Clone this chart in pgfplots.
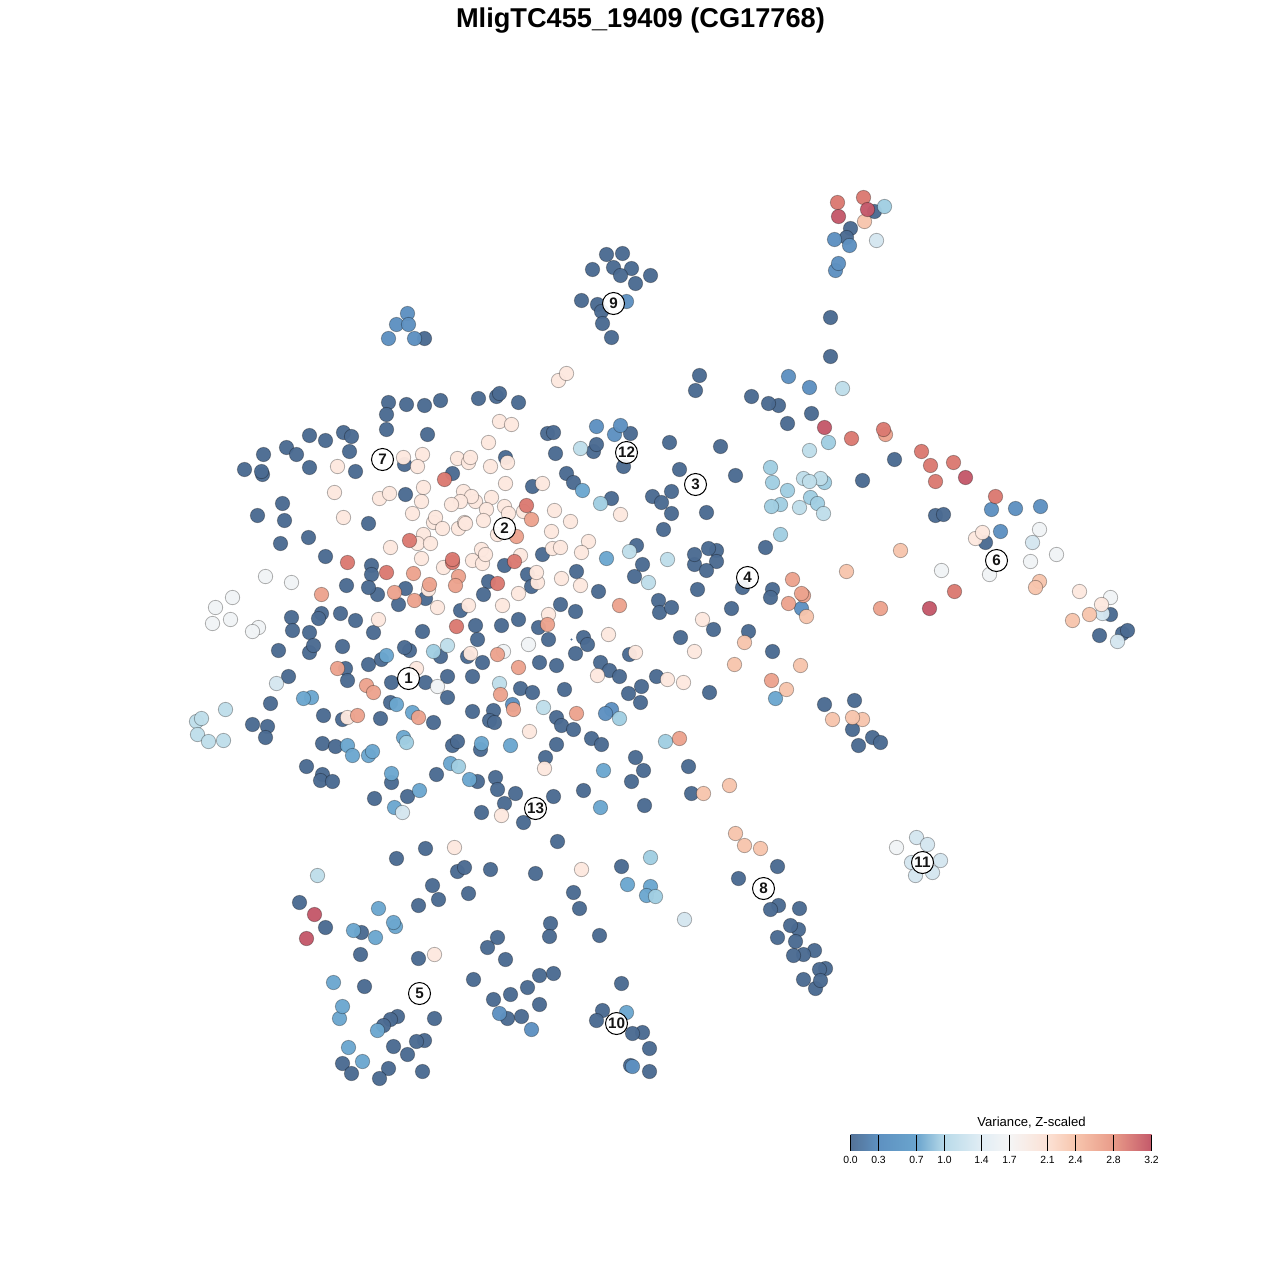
\documentclass[border=0pt]{standalone}
\usepackage{pgfplots}
\pgfplotsset{compat=1.18}
\usepackage{fontspec}
\setmainfont{Liberation Sans}
\definecolor{cA}{HTML}{4B6B92}
\definecolor{cB}{HTML}{5E91C1}
\definecolor{cC}{HTML}{6CA7CF}
\definecolor{cD}{HTML}{A1CEE2}
\definecolor{cE}{HTML}{BFDEEA}
\definecolor{cF}{HTML}{D5E6F0}
\definecolor{cG}{HTML}{F1F4F6}
\definecolor{cH}{HTML}{FDE8DF}
\definecolor{cI}{HTML}{F7C5AD}
\definecolor{cJ}{HTML}{ECA38E}
\definecolor{cK}{HTML}{DB7A72}
\definecolor{cL}{HTML}{C4596A}
\pgfplotsset{
  pt/.style={only marks, mark=*, mark size=3.6pt, mark options={fill=#1, draw=black, draw opacity=0.3, line width=0.4pt, fill opacity=0.97}, forget plot},
}
\begin{document}
\begin{tikzpicture}
\path (0,0) rectangle (640pt,640pt);
\begin{axis}[at={(0,0)}, anchor=south west, width=640pt, height=640pt, scale only axis, hide axis, clip=false,
  xmin=-0.5, xmax=1279.5, ymin=-0.5, ymax=1279.5, y dir=reverse]
\addplot[pt=cA] coordinates {(874,211)(850,228)(846,237)(830,317)(830,356)
(606,254)(622,253)(613,267)(631,268)(592,269)(620,275)(650,275)(635,283)(581,300)(597,304)(601,311)(602,323)(611,337)(424,338)
(388,402)(386,414)(386,429)(406,404)(424,405)(440,400)(478,398)(496,396)(499,393)(518,402)(427,434)
(309,435)(325,440)(343,432)(351,436)(349,451)(263,454)(286,447)(296,454)(309,467)(244,469)(262,474)(261,471)(355,471)(404,464)(405,494)(282,503)(257,515)(284,520)(368,523)(308,537)(280,543)(325,556)(371,565)(371,574)(346,585)(377,594)(368,587)(405,588)(398,604)(321,613)(318,618)(340,613)(355,620)
(547,433)(553,432)(555,453)(593,451)(596,444)(630,433)(623,466)(505,457)(452,473)(532,486)(566,473)(573,482)(611,498)(542,554)(504,565)(527,574)(531,586)(488,581)(483,594)(425,598)(576,571)(598,591)(636,545)(634,576)(642,564)(560,604)(575,611)(460,610)
(291,617)(292,630)(309,632)(373,632)(278,650)(309,652)(313,645)(342,646)(368,664)(381,659)(409,650)(404,647)(345,668)(347,680)(288,676)(391,682)(270,703)(390,702)(323,715)(342,719)(380,718)(252,724)(267,726)(265,737)(322,743)(335,746)(306,766)(322,774)(320,780)(332,781)(374,798)(391,782)(407,796)
(422,631)(475,625)(501,625)(518,619)(538,627)(548,639)(583,637)(587,644)(477,639)(575,653)(629,654)(467,656)(440,656)(482,662)(539,662)(556,665)(600,662)(609,670)(619,676)(447,676)(472,676)(425,682)(447,697)(520,688)(532,692)(564,689)(628,693)(641,686)(640,702)(472,711)(493,710)(489,720)(494,722)(433,722)(556,717)(561,725)(573,729)(591,738)(601,744)(556,744)(545,757)(635,757)(643,770)(631,781)(452,745)(457,741)(480,749)(436,774)(495,777)(477,781)(497,789)(515,793)(504,803)(553,796)(583,790)(481,812)(523,822)(644,805)
(699,375)(695,390)(751,396)(778,405)(768,403)(811,413)(787,423)(669,442)(720,446)(679,469)(735,475)(862,480)(671,491)(652,496)(661,502)(671,513)(706,512)(663,529)(694,564)(694,554)(716,550)(708,548)(716,561)(706,570)(765,547)(697,589)(742,587)(772,589)(770,597)(658,600)(659,612)(671,607)(731,608)
(713,629)(680,637)(748,631)(772,651)(656,676)(709,692)(824,704)(854,700)(852,729)(872,737)(880,742)(858,745)(688,766)(691,793)
(894,459)(935,515)(943,514)(985,542)(1122,633)(1127,630)(1099,635)(1110,614)
(425,848)(396,858)(457,871)(464,867)(490,869)(535,873)(432,885)(438,899)(418,905)(468,893)(299,902)(325,927)(361,932)(360,954)(418,958)(497,937)(487,947)(505,959)(550,923)(549,936)(473,979)(539,975)(553,973)(527,987)(510,994)(493,999)(539,1004)(507,1018)(521,1016)(364,986)(434,1018)(397,1016)(390,1019)(383,1025)(424,1040)(416,1041)(393,1046)(342,1063)(351,1073)(388,1068)(379,1078)(422,1071)(407,1054)
(557,841)(621,866)(573,892)(579,908)(599,935)(621,983)(602,1010)(596,1020)(642,1032)(632,1033)(649,1048)(630,1065)(649,1071)
(777,866)(738,878)(778,905)(770,909)(799,908)(798,929)(790,925)(777,937)(795,941)(814,950)(803,954)(793,955)(825,968)(819,969)(803,979)(815,988)(820,980)};
\addplot[pt=cB] coordinates {(835,270)(838,263)(407,313)(396,324)(408,324)(388,338)(414,338)(626,301)(596,426)(614,434)(620,425)(834,239)(849,245)(991,509)(1015,508)(1040,506)(1000,531)(499,1013)(531,1029)(632,1066)(512,704)(611,709)(605,713)(788,376)(809,387)(801,608)};
\addplot[pt=cC] coordinates {(582,490)(606,558)(386,655)(311,697)(303,698)(396,704)(412,712)(403,737)(347,745)(352,755)(368,755)(372,751)(391,773)(394,807)(419,790)(481,743)(510,745)(450,763)(469,779)(603,770)(600,807)(378,908)(395,926)(393,922)(353,930)(375,937)(333,982)(339,1018)(342,1006)(377,1030)(348,1047)(362,1061)(626,1012)(627,884)(650,886)(646,895)(775,698)};
\addplot[pt=cD] coordinates {(828,442)(770,467)(772,482)(787,490)(810,497)(817,503)(780,504)(771,506)(780,534)(824,482)(600,503)(406,742)(619,718)(650,857)(655,896)(884,206)(665,741)(433,651)(458,766)};
\addplot[pt=cE] coordinates {(580,448)(629,551)(842,388)(809,450)(803,478)(820,478)(809,481)(799,507)(823,513)(667,559)(648,582)(447,645)(499,683)(543,707)(317,875)(225,709)(196,721)(201,718)(197,734)(208,741)(223,740)};
\addplot[pt=cF] coordinates {(276,683)(402,812)(876,240)(684,919)(1032,542)(1117,641)(1102,613)(916,837)(927,844)(911,862)(940,860)(932,872)(915,875)};
\addplot[pt=cG] coordinates {(265,576)(291,582)(232,597)(215,607)(230,619)(212,623)(258,627)(252,631)(437,686)(528,644)(503,651)(1039,529)(1056,554)(1030,561)(941,570)(989,574)(1110,597)(896,847)};
\addplot[pt=cH] coordinates {(558,380)(566,373)(337,466)(334,492)(379,498)(389,493)(343,517)(390,547)(403,457)(499,421)(511,424)(488,442)(422,454)(417,466)(457,458)(468,462)(470,457)(490,466)(507,462)(505,483)(542,483)(423,487)(421,501)(412,513)(463,491)(475,501)(471,496)(460,501)(451,504)(491,497)(486,509)(504,506)(508,513)(523,511)(554,510)(570,521)(620,514)(433,522)(435,517)(442,528)(458,528)(464,522)(465,523)(483,520)(497,534)(551,531)(423,534)(417,543)(430,543)(421,558)(443,567)(472,560)(482,563)(481,549)(485,554)(520,555)(552,548)(560,547)(588,541)(581,552)(561,578)(580,585)(537,582)(536,572)(518,593)(468,605)(502,605)(437,607)(428,589)(378,619)(347,717)(416,668)(608,634)(635,652)(470,653)(597,675)(529,731)(544,768)(501,815)(548,614)(702,619)(694,651)(667,679)(683,682)(454,847)(434,954)(581,869)(975,538)(982,532)(1079,591)(1101,604)};
\addplot[pt=cI] coordinates {(864,221)(846,571)(900,550)(1039,581)(1035,587)(1072,620)(1089,614)(806,616)(744,642)(734,664)(800,665)(786,689)(832,719)(862,719)(852,717)(729,785)(703,793)(735,833)(744,845)(760,848)};
\addplot[pt=cJ] coordinates {(321,594)(394,592)(531,519)(516,536)(413,573)(458,576)(455,585)(429,584)(414,600)(619,605)(337,668)(366,685)(373,692)(357,715)(418,717)(547,624)(497,654)(518,667)(500,694)(513,709)(576,713)(792,579)(803,595)(801,593)(788,603)(771,680)(679,738)(885,434)(880,608)};
\addplot[pt=cK] coordinates {(347,562)(386,572)(409,540)(444,479)(452,562)(452,559)(526,505)(514,561)(497,583)(456,626)(837,202)(863,197)(883,429)(921,451)(930,465)(953,462)(935,481)(995,496)(954,591)(851,438)};
\addplot[pt=cL] coordinates {(838,216)(867,209)(824,427)(965,477)(929,608)(314,914)(306,938)};
\addplot[only marks, mark=*, mark size=0.25pt, color=cA, forget plot] coordinates {(571,639)};
% cluster labels
\addplot[only marks, mark=*, mark size=5.5pt, mark options={fill=white, fill opacity=0.92, draw=black, line width=0.5pt}, forget plot,
  point meta=explicit symbolic,
  nodes near coords, every node near coord/.style={anchor=center, font=\fontsize{7.6}{8}\selectfont\bfseries, text=black, inner sep=0pt}]
  table[meta=l] {
x y l
408 678 1
504 528 2
695 484 3
747 577 4
419 993 5
996 560 6
382 459 7
763 888 8
613 303 9
616 1023 10
922 862 11
626 452 12
535 808 13
};
% colour key
\fill[left color=cA!95!white, right color=cB] (axis cs:850,1134) rectangle (axis cs:878,1150);
\fill[left color=cB, right color=cC!90!cB] (axis cs:878,1134) rectangle (axis cs:916,1150);
\fill[left color=cC!90!cB, right color=cD!75!white] (axis cs:916,1134) rectangle (axis cs:944,1150);
\fill[left color=cD!75!white, right color=cF!70!white] (axis cs:944,1134) rectangle (axis cs:981,1150);
\fill[left color=cF!70!white, right color=white!96!black] (axis cs:981,1134) rectangle (axis cs:1009,1150);
\fill[left color=white!96!black, right color=cH!80!cI] (axis cs:1009,1134) rectangle (axis cs:1047,1150);
\fill[left color=cH!80!cI, right color=cI] (axis cs:1047,1134) rectangle (axis cs:1075,1150);
\fill[left color=cI, right color=cJ!80!cK] (axis cs:1075,1134) rectangle (axis cs:1113,1150);
\fill[left color=cJ!80!cK, right color=cL] (axis cs:1113,1134) rectangle (axis cs:1151,1150);
\foreach \x/\t in {850/0.0,878/0.3,916/0.7,944/1.0,981/1.4,1009/1.7,1047/2.1,1075/2.4,1113/2.8,1151/3.2}{
  \edef\tmp{\noexpand\draw[black, line width=0.45pt] (axis cs:\x,1134) -- (axis cs:\x,1150);
  \noexpand\node[font=\noexpand\fontsize{5.2}{6}\noexpand\selectfont, text=black, inner sep=0pt] at (axis cs:\x,1159) {\t};}
  \tmp
}
\node[font=\fontsize{6.55}{7}\selectfont, text=black, inner sep=0pt] at (axis cs:1031,1122.5) {Variance, Z-scaled};
\node[font=\fontsize{13.6}{15}\selectfont\bfseries, text=black, inner sep=0pt] at (axis cs:640,20.5) {MligTC455\_19409 (CG17768)};
\end{axis}
\end{tikzpicture}
\end{document}
